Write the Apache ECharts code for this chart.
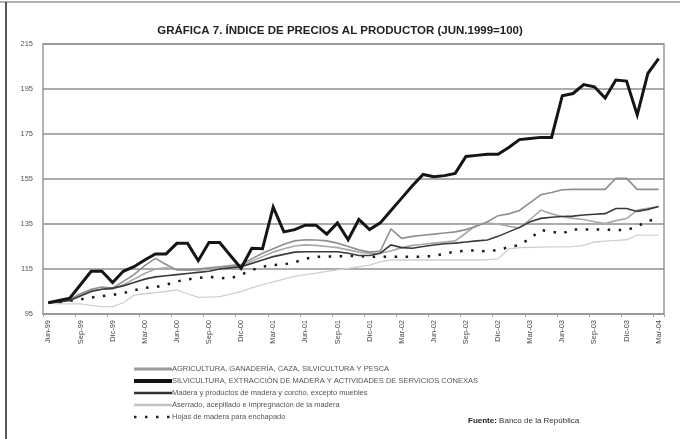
<!DOCTYPE html>
<html><head><meta charset="utf-8">
<script src="https://cdn.jsdelivr.net/npm/echarts@6/dist/echarts.min.js"></script>
<style>html,body{margin:0;padding:0;background:#fff}#c{width:680px;height:439px}</style>
</head><body><div id="c"></div>
<script>
const categories = ["Jun-99","Jul-99","Ago-99","Sep-99","Oct-99","Nov-99","Dic-99","Ene-00","Feb-00","Mar-00","Abr-00","May-00","Jun-00","Jul-00","Ago-00","Sep-00","Oct-00","Nov-00","Dic-00","Ene-01","Feb-01","Mar-01","Abr-01","May-01","Jun-01","Jul-01","Ago-01","Sep-01","Oct-01","Nov-01","Dic-01","Ene-02","Feb-02","Mar-02","Abr-02","May-02","Jun-02","Jul-02","Ago-02","Sep-02","Oct-02","Nov-02","Dic-02","Ene-03","Feb-03","Mar-03","Abr-03","May-03","Jun-03","Jul-03","Ago-03","Sep-03","Oct-03","Nov-03","Dic-03","Ene-04","Feb-04","Mar-04"];

const yTicks = [95, 115, 135, 155, 175, 195, 215];

const nameAgri = "AGRICULTURA, GANADERÍA, CAZA, SILVICULTURA Y PESCA";
const nameSilv = "SILVICULTURA, EXTRACCIÓN DE MADERA Y ACTIVIDADES DE SERVICIOS CONEXAS";
const nameMadera = "Madera y productos de madera y corcho, excepto muebles";
const nameAserrado = "Aserrado, acepillado e impregnación de la madera";
const nameHojas = "Hojas de madera para enchapado";

const agricultura = [100,100.5,101.5,104,106,107,106.5,109.5,112.5,116.5,119.7,117,114.6,114.6,115,115.5,116,116.5,117,119.5,122,124,126,127.5,128,127.9,127.5,126.5,125,123.5,122.5,123,132.8,128.6,129.5,130,130.5,131,131.5,132.5,134,136,138.7,139.5,141,144.5,148,149,150.2,150.4,150.4,150.4,150.4,155.3,155.3,150.4,150.4,150.4];
const silvicultura = [100,101,102,108,114,114,109,114,116,119,121.7,121.7,126.4,126.4,118.7,126.8,126.8,121,115.3,124.2,124,142.5,131.5,132.5,134.5,134.5,130.5,135.5,128,137,132.5,135.5,141,146.5,152,157,156,156.5,157.5,165,165.5,166,166,169,172.5,173,173.5,173.5,192,193,197,196,191,199,198.5,183.5,202,208.5];
const madera = [100,100.3,101,103,105,106,106.5,107.5,109,110.5,111.5,112,112.5,113,113.5,114,115,115.5,116,117.5,119,120.5,121.5,122.5,122.7,122.7,122.7,122.7,122,121,121,122,125.7,124.5,124.2,125,125.7,126.2,126.5,127,127.5,127.9,129.5,131.5,133.5,136,137.5,138,138.3,138.5,139,139.3,139.6,141.9,141.9,140.6,141.5,142.8];
const aserrado = [100,99.5,99.5,99.5,98.8,98.3,98.3,100,103.4,104,104.5,105,105.7,104,102.4,102.5,102.7,103.8,104.9,106.6,108,109.3,110.5,111.7,112.5,113.2,113.9,114.6,115.3,116,116.7,118.2,119,119,119,119,119,119,119,119,119,119.2,119.5,124,124.5,124.6,124.7,124.8,124.8,124.9,125.5,127,127.4,127.7,128,130.1,130.1,130.1];
const hojas = [100,100.3,100.8,101.5,102.3,103,103.5,104.3,105.5,106.6,107,108,109.5,110.4,111,111.5,111,110.8,112.5,114.5,116,116.8,117,118,119.5,120.5,120.5,120.6,120.8,120.7,120.5,120.5,120.5,120.5,120.5,120.5,120.8,121.8,122.7,123.2,123.2,122.8,123.5,124.7,125.7,128.6,132.3,131.6,130.8,132.6,132.6,132.6,132.5,132.4,132.3,133.9,136.5,137];
const otraSerie = [100,100.5,101,103.5,105.5,106,106,108,110.5,113,115,115.5,115,114.5,114.5,115,115.5,116,116.5,118.5,120.5,122.5,124,125.2,125.7,125.5,125,124.5,123.5,122.5,122,122,123,124.5,125.5,126,126.5,127,127.5,131,134.6,135.4,135,134,133.2,137,141.2,139.5,138.3,137.5,137,136,135.2,136.5,137.4,141.2,142,142.8];

const FONT = '"Liberation Sans Narrow", "Arial Narrow", "Liberation Sans", sans-serif';

const chart = echarts.init(document.getElementById('c'), null, {renderer: 'canvas'});

function line(name, data, color, width, type, z) {
  return {
    name: name, type: 'line', data: data, symbol: 'none', z: z,
    lineStyle: {color: color, width: width, type: type || 'solid', cap: 'butt', join: 'miter'},
    itemStyle: {color: color},
    emphasis: {disabled: true}, animation: false
  };
}

const hidden = {color: 'transparent', borderColor: 'transparent', borderWidth: 0, opacity: 0};

chart.setOption({
  animation: false,
  backgroundColor: '#fff',
  title: {
    text: 'GRÁFICA 7. ÍNDICE DE PRECIOS AL PRODUCTOR (JUN.1999=100)',
    left: 'center', top: 20,
    textStyle: {fontFamily: FONT, fontSize: 11.5, fontWeight: 'bold', color: '#222'}
  },
  grid: {left: 43, right: 16, top: 44, bottom: 125, show: true, borderColor: '#9a9a9a', borderWidth: 1.5, backgroundColor: 'transparent'},
  xAxis: {
    type: 'category', data: categories, boundaryGap: true,
    axisLine: {show: true, lineStyle: {color: '#9a9a9a', width: 1.5}},
    axisTick: {show: true, interval: 2, length: 3, lineStyle: {color: '#aaa'}},
    axisLabel: {interval: 2, rotate: 90, margin: 6, fontFamily: FONT, fontSize: 7.5, color: '#444'},
    splitLine: {show: false}
  },
  yAxis: {
    type: 'value', min: yTicks[0], max: yTicks[yTicks.length - 1], interval: 20,
    axisLine: {show: false}, axisTick: {show: false},
    axisLabel: {margin: 10, fontFamily: FONT, fontSize: 7.5, color: '#555'},
    splitLine: {show: true, lineStyle: {color: '#8f8f8f', width: 1.5}}
  },
  legend: {
    orient: 'vertical', left: 127, top: 360,
    itemWidth: 38, itemHeight: 8, itemGap: 4,
    itemStyle: hidden,
    data: [
      {name: nameAgri, itemStyle: hidden, lineStyle: {width: 3, color: '#9a9a9a'}},
      {name: nameSilv, itemStyle: hidden, lineStyle: {width: 4, color: '#111'}},
      {name: nameMadera, itemStyle: hidden, lineStyle: {width: 2.5, color: '#333'}},
      {name: nameAserrado, itemStyle: hidden, lineStyle: {width: 2.5, color: '#c4c4c4'}},
      {name: nameHojas, itemStyle: hidden, lineStyle: {width: 2.5, color: '#222', type: [2.5, 8.5]}}
    ],
    textStyle: {fontFamily: FONT, fontSize: 7.5, color: '#555', padding: [0, 0, 0, -5]},
    selectedMode: false
  },
  graphic: [
    {type: 'line', shape: {x1: 0, y1: 2, x2: 680, y2: 2}, style: {stroke: '#999', lineWidth: 1.5}},
    {type: 'line', shape: {x1: 6, y1: 2, x2: 6, y2: 439}, style: {stroke: '#222', lineWidth: 1.5}},
    {type: 'text', left: 468, top: 417, style: {
      text: '{b|Fuente:} Banco de la República',
      fontFamily: FONT, fontSize: 8, fill: '#333',
      rich: {b: {fontFamily: FONT, fontSize: 8, fontWeight: 'bold', fill: '#222'}}
    }}
  ],
  series: [
    line(nameAserrado, aserrado, '#cfcfcf', 1.3, 'solid', 2),
    line('', otraSerie, '#a8a8a8', 1.6, 'solid', 3),
    line(nameAgri, agricultura, '#8f8f8f', 1.6, 'solid', 4),
    line(nameHojas, hojas, '#1a1a1a', 2.5, [2.5, 8.5], 5),
    line(nameMadera, madera, '#3a3a3a', 1.6, 'solid', 6),
    line(nameSilv, silvicultura, '#151515', 3, 'solid', 7)
  ]
});
</script>
</body></html>
